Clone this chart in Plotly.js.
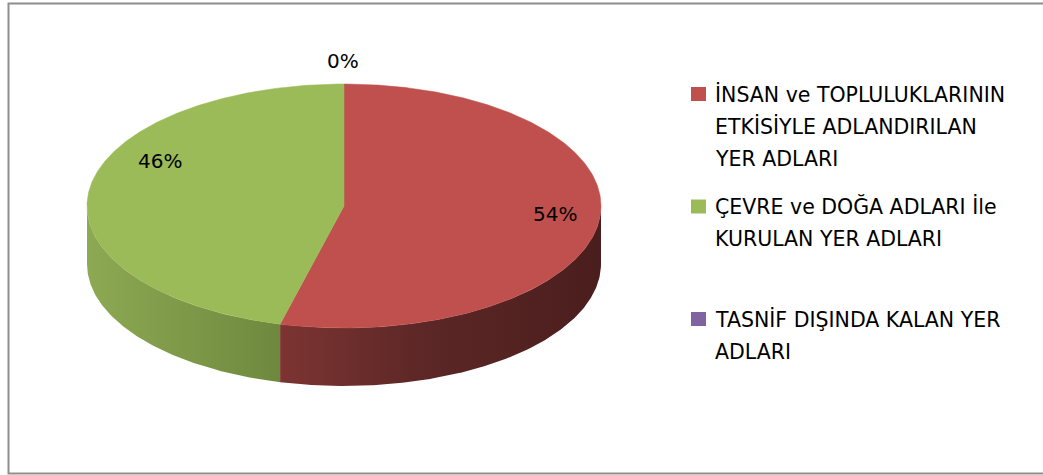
<!DOCTYPE html>
<html><head><meta charset="utf-8">
<script src="https://cdn.plot.ly/plotly-3.0.1.min.js"></script>
<style>html,body{margin:0;padding:0;background:#fff;overflow:hidden}</style>
</head><body><div id="chart" style="width:1043px;height:475px"></div>
<script>
// ---- data ----
const categories = [
  "İNSAN ve TOPLULUKLARININ ETKİSİYLE ADLANDIRILAN YER ADLARI",
  "ÇEVRE ve DOĞA ADLARI İle KURULAN YER ADLARI",
  "TASNİF DIŞINDA KALAN YER ADLARI"
];
const legendLines = [
  ["İNSAN ve TOPLULUKLARININ", "ETKİSİYLE ADLANDIRILAN", "YER ADLARI"],
  ["ÇEVRE ve DOĞA ADLARI İle", "KURULAN YER ADLARI"],
  ["TASNİF DIŞINDA KALAN YER", "ADLARI"]
];
const values = [54, 46, 0];
const colors = ["#C0504D", "#9BBB59", "#8064A2"];
const sideScales = [
  [[0, "rgb(124,52,50)"], [0.45, "rgb(92,39,38)"], [1, "rgb(74,30,29)"]],
  [[0, "rgb(141,169,83)"], [1, "rgb(110,137,62)"]],
  [[0, "rgb(100,78,127)"], [1, "rgb(60,47,76)"]]
];

// ---- geometry (styles / layout) ----
const W = 1043, H = 475;
const cx = 344, cy = 206, ra = 257, rb = 122, depth = 58;
const labelAnchors = [[555, 214], [160, 161], [343, 61]];
const FONT = "DejaVu Sans";

const total = values.reduce((s, v) => s + v, 0);
const rad = d => d * Math.PI / 180;
const px = t => cx + ra * Math.cos(rad(t));
const py = t => cy - rb * Math.sin(rad(t));

function arc(from, to) { // degrees, any direction
  const n = Math.max(2, Math.ceil(Math.abs(to - from) / 0.5));
  const xs = [], ys = [];
  for (let i = 0; i <= n; i++) {
    const t = from + (to - from) * i / n;
    xs.push(px(t)); ys.push(py(t));
  }
  return [xs, ys];
}

const sideTraces = [], topTraces = [], annotations = [], shapes = [];
let cum = 0;
values.forEach((v, i) => {
  const t0 = 90 - 360 * cum / total;
  const t1 = t0 - 360 * v / total;
  cum += v;
  const pct = Math.round(v / total * 100) + "%";
  if (v > 0) {
    // visible front side: intersect [t1,t0] with front intervals
    [[-180, 0], [-540, -360], [180, 360]].forEach(([lo, hi]) => {
      const a = Math.max(lo, t1), b = Math.min(hi, t0);
      if (b - a > 0.01) {
        const [tx, ty] = arc(b, a);
        const [bx, by] = arc(a, b);
        const xs = tx.concat(bx), ys = ty.concat(by.map(y => y + depth));
        xs.push(xs[0]); ys.push(ys[0]);
        sideTraces.push({
          type: "scatter", mode: "lines", x: xs, y: ys, fill: "toself",
          line: {width: 0, color: colors[i]}, fillcolor: colors[i],
          fillgradient: {type: "horizontal", start: Math.min(...xs), stop: Math.max(...xs), colorscale: sideScales[i]},
          hoverinfo: "skip", showlegend: false
        });
      }
    });
    const [ax, ay] = arc(t0, t1);
    topTraces.push({
      type: "scatter", mode: "lines", x: [cx].concat(ax, [cx]), y: [cy].concat(ay, [cy]),
      fill: "toself", fillcolor: colors[i], line: {width: 0.5, color: colors[i]},
      name: categories[i], hoverinfo: "name", showlegend: false
    });
  }
  annotations.push({
    x: labelAnchors[i][0], y: labelAnchors[i][1], xref: "x", yref: "y",
    text: pct, showarrow: false, xanchor: "center", yanchor: "middle",
    font: {family: FONT, size: 20, color: "#000"}
  });
});

// legend (Excel-style, wrapped lines)
legendLines.forEach((lines, i) => {
  const yc = 94 + i * 112.5;
  shapes.push({type: "rect", xref: "x", yref: "y", x0: 691, x1: 706, y0: yc - 7, y1: yc + 7,
    fillcolor: colors[i], line: {width: 0}});
  lines.forEach((ln, j) => {
    annotations.push({
      x: 713, y: yc + j * 32.5, xref: "x", yref: "y", text: ln, showarrow: false,
      xanchor: "left", yanchor: "middle", font: {family: FONT, size: 20.5, color: "#000"}
    });
  });
});

// chart border
shapes.push({type: "rect", xref: "x", yref: "y", x0: 8.5, y0: 3.5, x1: 1100, y1: 473.5,
  line: {color: "#8e8e8e", width: 2}, fillcolor: "rgba(0,0,0,0)", layer: "below"});

Plotly.newPlot("chart", sideTraces.concat(topTraces), {
  width: W, height: H, margin: {l: 0, r: 0, t: 0, b: 0, pad: 0},
  paper_bgcolor: "#fff", plot_bgcolor: "#fff", showlegend: false,
  xaxis: {range: [0, W], visible: false, fixedrange: true},
  yaxis: {range: [H, 0], visible: false, fixedrange: true},
  annotations: annotations, shapes: shapes,
  font: {family: FONT}
}, {displayModeBar: false, staticPlot: true});
</script></body></html>
